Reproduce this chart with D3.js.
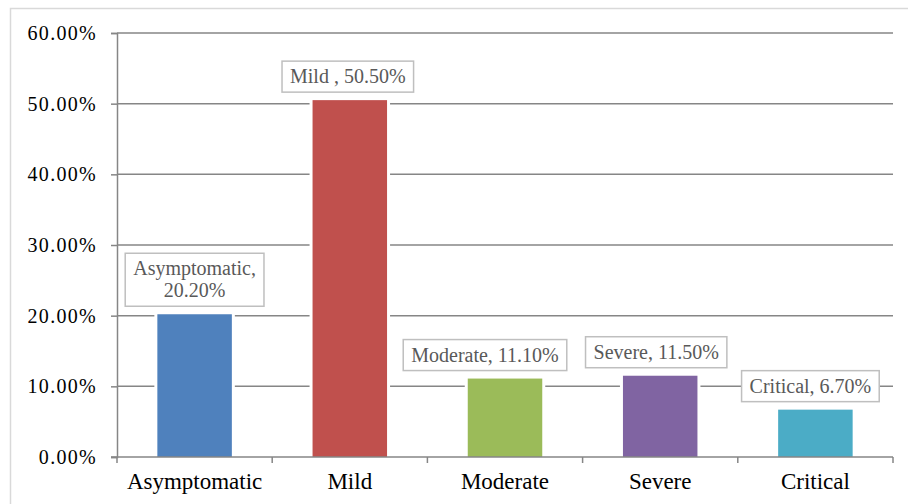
<!DOCTYPE html>
<html>
<head>
<meta charset="utf-8">
<script src="https://cdn.jsdelivr.net/npm/d3@7"></script>
<style>
  html, body { margin: 0; padding: 0; background: #fff; }
  svg { display: block; }
</style>
</head>
<body>
<svg id="chart" width="908" height="504"></svg>
<script>
// Severity categories and their share of cases
const categories = ["Asymptomatic", "Mild", "Moderate", "Severe", "Critical"];
const shares = [20.2, 50.5, 11.1, 11.5, 6.7];
const barColors = ["#4F81BD", "#C0504D", "#9BBB59", "#8064A2", "#4BACC6"];
const yTicks = [0, 10, 20, 30, 40, 50, 60];

// Data label text; the first one wraps onto two lines
const labelLines = [
  ["Asymptomatic,", "20.20%"],
  ["Mild , 50.50%"],
  ["Moderate, 11.10%"],
  ["Severe, 11.50%"],
  ["Critical, 6.70%"]
];
// Horizontal nudge of each data label box from its bar centre (layout only)
const labelNudge = [0, -2, -20, -4, -5];

const FONT = "'Liberation Serif', 'Times New Roman', serif";
const svg = d3.select("#chart");
const plot = { left: 117, right: 893, top: 33, bottom: 457 };

// Outer chart frame
svg.append("rect")
  .attr("x", 10.5).attr("y", 8.5)
  .attr("width", 910).attr("height", 510)
  .attr("fill", "none")
  .attr("stroke", "#d9d9d9")
  .attr("stroke-width", 1.5);

const x = d3.scaleBand()
  .domain(categories)
  .range([plot.left, plot.right])
  .paddingInner(0.52)
  .paddingOuter(0.26);

const y = d3.scaleLinear()
  .domain([0, 60])
  .range([plot.bottom, plot.top]);

// Horizontal gridlines
svg.append("g")
  .selectAll("line")
  .data(yTicks.filter(t => t > 0))
  .join("line")
  .attr("x1", plot.left).attr("x2", plot.right)
  .attr("y1", d => y(d)).attr("y2", d => y(d))
  .attr("stroke", "#868686")
  .attr("stroke-width", 1.5);

// Bars, with a white halo that breaks the gridlines around them
svg.append("g")
  .selectAll("rect")
  .data(categories)
  .join("rect")
  .attr("x", d => x(d))
  .attr("y", (d, i) => y(shares[i]))
  .attr("width", x.bandwidth())
  .attr("height", (d, i) => y(0) - y(shares[i]))
  .attr("fill", (d, i) => barColors[i])
  .attr("stroke", "#fff")
  .attr("stroke-width", 6)
  .attr("paint-order", "stroke");

// Y axis
const yAxis = svg.append("g")
  .attr("transform", `translate(${plot.left},0)`)
  .call(d3.axisLeft(y)
    .tickValues(yTicks)
    .tickSize(6)
    .tickPadding(14)
    .tickFormat(d => d.toFixed(2) + "%"));
yAxis.select(".domain").attr("stroke", "#868686").attr("stroke-width", 1.5);
yAxis.selectAll(".tick line").attr("stroke", "#868686").attr("stroke-width", 1.5);
yAxis.selectAll(".tick text")
  .attr("fill", "#000")
  .style("font-size", "20px")
  .style("letter-spacing", "1.3px")
  .style("font-family", FONT);

// X axis with tick marks at category boundaries
const boundaries = categories.map(c => x(c) - x.step() * x.paddingInner() / 2)
  .concat([plot.right]);
const xAxisG = svg.append("g");
xAxisG.append("line")
  .attr("x1", plot.left - 6).attr("x2", plot.right)
  .attr("y1", plot.bottom).attr("y2", plot.bottom)
  .attr("stroke", "#868686").attr("stroke-width", 1.5);
xAxisG.selectAll(".bt")
  .data(boundaries)
  .join("line")
  .attr("class", "bt")
  .attr("x1", d => d).attr("x2", d => d)
  .attr("y1", plot.bottom).attr("y2", plot.bottom + 6)
  .attr("stroke", "#868686").attr("stroke-width", 1.5);
xAxisG.selectAll(".cl")
  .data(categories)
  .join("text")
  .attr("class", "cl")
  .attr("x", d => x(d) + x.bandwidth() / 2)
  .attr("y", 489)
  .attr("text-anchor", "middle")
  .attr("fill", "#000")
  .style("font-family", FONT)
  .style("font-size", "23px")
  .text(d => d);

// Data label boxes above each bar
const lineH = 22;
const labels = svg.append("g");
categories.forEach((c, i) => {
  const g = labels.append("g");
  const cx = x(c) + x.bandwidth() / 2 + labelNudge[i];
  const lines = labelLines[i];
  const boxBottom = y(shares[i]) - 8;
  const boxH = 9 + lines.length * lineH;
  const boxTop = boxBottom - boxH;
  const rect = g.append("rect");
  const t = g.append("text")
    .attr("text-anchor", "middle")
    .attr("fill", "#595959")
    .style("font-family", FONT)
    .style("font-size", "20px");
  lines.forEach((ln, k) => {
    t.append("tspan")
      .attr("x", cx)
      .attr("y", boxTop + 22 + k * lineH)
      .text(ln);
  });
  const bb = t.node().getBBox();
  const w = bb.width + 16;
  rect.attr("x", cx - w / 2)
    .attr("y", boxTop)
    .attr("width", w)
    .attr("height", boxH)
    .attr("fill", "#fff")
    .attr("stroke", "#bfbfbf")
    .attr("stroke-width", 1.5);
});
</script>
</body>
</html>
